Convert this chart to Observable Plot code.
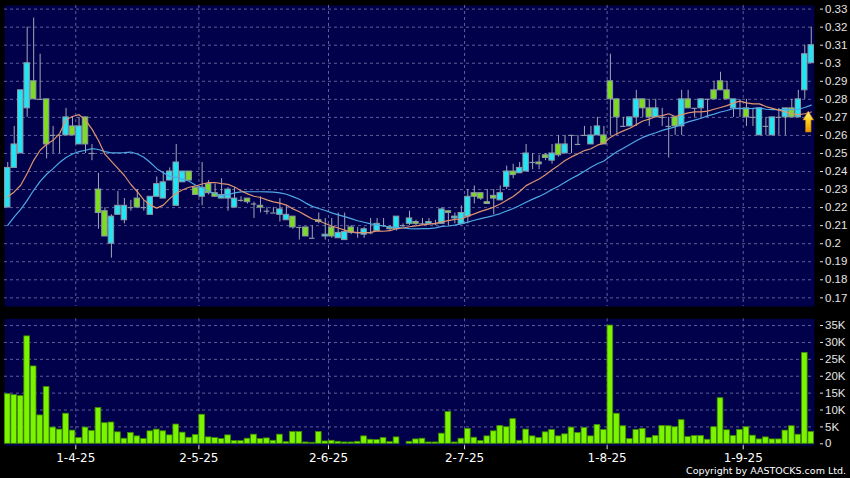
<!DOCTYPE html>
<html><head><meta charset="utf-8">
<script src="https://cdn.jsdelivr.net/npm/d3@7"></script>
<script src="https://cdn.jsdelivr.net/npm/@observablehq/plot@0.6"></script>
<style>
html,body{margin:0;padding:0;background:#000;}
#chart{position:relative;width:850px;height:478px;background:#000;overflow:hidden;}
#price{position:absolute;left:0;top:0;}
#vol{position:absolute;left:0;top:312px;}
#copy{position:absolute;right:4px;top:465px;line-height:11px;color:#fff;font-family:"DejaVu Sans",sans-serif;font-size:9.5px;white-space:nowrap;}
</style></head><body>
<div id="chart"><div id="price"></div><div id="vol"></div><div id="copy">Copyright by AASTOCKS.com Ltd.</div></div>
<script>
// ---- data (trading-day index 0 = 18 Mar 2025) ----
const openP = [.220,.242,.250,.275,.290,.280,.280,.260,.260,.260,.265,.255,.270,.250,.230,.218,.200,.216,.213,.220,
.225,.220,.216,.226,.225,.235,.221,.234,.240,.231,.226,.233,.228,.225,.225,.220,.224,.225,.222,.221,
.218,.217,.216,.213,.215,.209,.209,.203,.213,.204,.209,.203,.202,.209,.206,.205,.206,.207,.210,.209,
.208,.210,.211,.212,.211,.211,.211,.211,.218,.214,.211,.215,.228,.228,.223,.2265,.224,.2315,.240,.239,
.240,.245,.245,.249,.246,.255,.250,.260,.255,.260,.255,.260,.260,.290,.280,.265,.265,.270,.280,.275,
.270,.270,.265,.270,.265,.280,.275,.275,.280,.285,.290,.285,.275,.275,.275,.270,.260,.265,.260,.270,
.270,.275,.270,.285,.300];
const highP = [.245,.265,.285,.320,.325,.305,.280,.265,.260,.275,.270,.270,.270,.255,.239,.220,.216,.229,.225,.224,
.230,.224,.226,.237,.240,.242,.255,.240,.240,.231,.245,.235,.233,.236,.231,.231,.226,.225,.223,.226,
.220,.220,.225,.221,.215,.209,.209,.210,.217,.214,.214,.217,.217,.210,.209,.209,.214,.214,.214,.210,
.215,.211,.218,.213,.214,.214,.213,.220,.218,.217,.221,.230,.232,.228,.230,.230,.232,.243,.244,.245,
.255,.250,.249,.250,.255,.260,.260,.260,.260,.265,.265,.270,.265,.305,.280,.270,.270,.285,.280,.280,
.280,.275,.270,.270,.285,.285,.275,.280,.280,.290,.295,.290,.280,.280,.280,.275,.275,.270,.270,.275,
.275,.280,.285,.310,.320];
const lowP = [.220,.242,.250,.270,.280,.280,.247,.250,.250,.260,.260,.255,.250,.246,.208,.204,.192,.216,.211,.218,
.220,.218,.216,.226,.225,.235,.221,.234,.235,.227,.221,.227,.226,.225,.218,.220,.223,.222,.214,.217,
.216,.217,.212,.213,.208,.202,.204,.203,.211,.202,.203,.203,.202,.205,.203,.203,.205,.207,.209,.207,
.207,.209,.210,.210,.210,.211,.210,.211,.210,.211,.211,.211,.222,.224,.222,.216,.224,.230,.236,.239,
.240,.241,.241,.246,.244,.248,.250,.250,.255,.260,.255,.260,.255,.260,.260,.265,.265,.265,.270,.265,
.270,.265,.2475,.260,.260,.275,.270,.270,.270,.280,.285,.280,.270,.270,.265,.265,.260,.260,.260,.260,
.260,.270,.270,.280,.300];
const closeP = [.242,.255,.285,.300,.280,.280,.255,.260,.260,.270,.260,.265,.255,.250,.217,.204,.215,.221,.221,.220,
.220,.220,.226,.233,.234,.240,.245,.240,.235,.227,.231,.228,.226,.227,.230,.225,.224,.223,.222,.220,
.218,.217,.219,.216,.209,.209,.204,.203,.212,.205,.204,.206,.2065,.206,.206,.208,.206,.211,.210,.208,
.215,.210,.214,.211,.211,.212,.211,.219,.217,.215,.217,.226,.226,.225,.222,.225,.228,.240,.238,.242,
.250,.245,.244,.2475,.250,.249,.255,.260,.255,.260,.260,.265,.255,.280,.270,.265,.270,.280,.275,.270,
.275,.270,.265,.265,.280,.275,.275,.280,.280,.280,.285,.280,.280,.275,.270,.270,.275,.265,.270,.270,
.275,.270,.280,.305,.310];
const volume = [14700,14400,14100,31800,22900,8400,16800,4800,4200,8900,3900,1700,4800,3800,10600,6100,6300,3400,1500,3200,
2200,1400,3700,4200,3700,2500,5700,3300,1800,2600,8600,1900,1700,1400,2500,800,800,1500,2700,1400,
1600,900,2700,500,3500,3500,400,300,3500,700,900,600,400,400,600,2200,1200,1100,1700,500,
1900,0,600,1300,1500,400,400,3000,9400,400,1500,4400,1800,800,2200,3700,5300,4900,7300,900,
4200,2200,1700,3400,4100,2200,2800,4800,3200,4700,2200,5600,4100,35000,8900,5200,1400,4100,4400,1700,
2300,5300,5200,4900,7000,2000,2300,2300,1200,4900,13500,4000,2300,4100,4900,2400,1300,1900,1300,1300,
3900,5200,2700,26900,3500];
// moving averages
const ma10 = [.2260,.2287,.2324,.2389,.2462,.2518,.2551,.2573,.2610,.2687,.2705,.2715,.2685,.2635,.2572,.2496,.2456,.2417,.2378,.2328,
.2288,.2243,.2214,.2197,.2214,.2250,.2280,.2299,.2313,.2320,.2331,.2339,.2339,.2333,.2329,.2314,.2293,.2276,.2263,.2256,
.2243,.2232,.2225,.2214,.2193,.2177,.2157,.2137,.2127,.2112,.2098,.2087,.2075,.2065,.2062,.2061,.2063,.2071,.2069,.2072,
.2083,.2087,.2094,.2099,.2104,.2108,.2113,.2121,.2128,.2135,.2137,.2153,.2165,.2179,.2190,.2203,.2220,.2241,.2262,.2289,
.2322,.2341,.2359,.2382,.2410,.2434,.2461,.2481,.2498,.2516,.2526,.2546,.2557,.2589,.2609,.2625,.2640,.2660,.2680,.2690,
.2705,.2710,.2720,.2705,.2715,.2725,.2730,.2730,.2735,.2745,.2755,.2765,.2780,.2790,.2780,.2775,.2775,.2760,.2750,.2740,
.2730,.2720,.2715,.2720,.2730];
const ma20 = [.2101,.2149,.2190,.2240,.2296,.2345,.2385,.2416,.2450,.2478,.2497,.2510,.2518,.2527,.2522,.2510,.2503,.2503,.2505,.2508,
.2497,.2479,.2450,.2416,.2393,.2373,.2368,.2358,.2346,.2324,.2310,.2291,.2277,.2265,.2272,.2282,.2287,.2288,.2288,.2288,
.2287,.2286,.2282,.2274,.2261,.2246,.2225,.2207,.2195,.2184,.2171,.2160,.2150,.2139,.2127,.2119,.2110,.2104,.2098,.2092,
.2090,.2087,.2084,.2082,.2083,.2084,.2088,.2096,.2098,.2103,.2110,.2120,.2130,.2139,.2147,.2156,.2167,.2181,.2195,.2212,
.2230,.2247,.2262,.2280,.2300,.2318,.2340,.2361,.2380,.2402,.2424,.2443,.2458,.2485,.2509,.2529,.2550,.2570,.2589,.2603,
.2615,.2628,.2638,.2647,.2662,.2675,.2685,.2695,.2708,.2718,.2730,.2738,.2750,.2748,.2748,.2750,.2753,.2745,.2743,.2743,
.2743,.2743,.2745,.2755,.2768];
const monthFirstIdx = [10, 29, 49, 70, 92, 113];
const monthLabels = ["1-4-25","2-5-25","2-6-25","2-7-25","1-8-25","1-9-25"];
const priceTicks = [0.17,0.18,0.19,0.2,0.21,0.22,0.23,0.24,0.25,0.26,0.27,0.28,0.29,0.3,0.31,0.32,0.33];
const volTicks = [0,5000,10000,15000,20000,25000,30000,35000];
const signalIdx = [124];
const signalPrice = [0.2735];

// ---- styling ----
const NAVY = "#00004b", GRID = "#5f5f98", WICK = "#a0a8b4", EDGE = "#8d98a6";
const CYAN = "#22e4f2", GREEN = "#7ddc22", VGREEN = "#7cf400", VEDGE = "#3e8a00";
const ORANGE = "#de9470", BLUE = "#4ea8e4", TXT = "#e4e4e4";

const candles = closeP.map((c, i) => ({i, o: openP[i], h: highP[i], l: lowP[i], c}));
const up = candles.filter(d => d.c > d.o);
const down = candles.filter(d => d.c < d.o);
const doji = candles.filter(d => d.c === d.o);
const monthPos = monthFirstIdx.map(i => i + 0.5);
const labelAt = new Map(monthPos.map((p, k) => [p, monthLabels[k]]));
const xDomain = [-0.5, closeP.length - 0.5];

const arrowSymbol = {
  draw(ctx) {
    ctx.moveTo(0, 0); ctx.lineTo(5.4, 9); ctx.lineTo(2.8, 9); ctx.lineTo(2.8, 21);
    ctx.lineTo(-2.8, 21); ctx.lineTo(-2.8, 9); ctx.lineTo(-5.4, 9); ctx.closePath();
  }
};

const dashed = {stroke: GRID, strokeDasharray: "3,3", strokeWidth: 1};

const pricePlot = Plot.plot({
  width: 850, height: 312,
  marginTop: 5, marginBottom: 6, marginLeft: 4, marginRight: 36,
  x: {domain: xDomain, axis: null},
  y: {domain: [0.1652, 0.332]},
  style: {background: "#000", color: TXT, overflow: "visible"},
  marks: [
    Plot.frame({fill: NAVY}),
    Plot.ruleY(priceTicks, dashed),
    Plot.ruleX(monthPos, dashed),
    Plot.ruleX(candles, {x: "i", y1: "l", y2: "h", stroke: WICK, strokeWidth: 1}),
    Plot.rect(up, {x1: d => d.i - 0.42, x2: d => d.i + 0.42, y1: "o", y2: "c", fill: CYAN, stroke: EDGE, strokeWidth: 1}),
    Plot.rect(down, {x1: d => d.i - 0.42, x2: d => d.i + 0.42, y1: "o", y2: "c", fill: GREEN, stroke: EDGE, strokeWidth: 1}),
    Plot.ruleY(doji, {x1: d => d.i - 0.42, x2: d => d.i + 0.42, y: "o", stroke: EDGE, strokeWidth: 1.2}),
    Plot.line(ma20, {x: (d, i) => i, y: d => d, stroke: BLUE, strokeWidth: 1.2}),
    Plot.line(ma10, {x: (d, i) => i, y: d => d, stroke: ORANGE, strokeWidth: 1.2}),
    Plot.dot(signalIdx, {x: d => d, y: (d, k) => signalPrice[k], symbol: arrowSymbol, r: 5, dx: -3,
      fill: "url(#arrowGrad)", stroke: "#a87000", strokeWidth: 0.6}),
    Plot.axisY(priceTicks, {anchor: "right", tickSize: 3, tickPadding: 2.5, dx: 5, label: null,
      tickFormat: d => String(d), fontSize: 11.5, fontFamily: "Liberation Sans"})
  ]
});
const defs = document.createElementNS("http://www.w3.org/2000/svg", "defs");
defs.innerHTML = '<linearGradient id="arrowGrad" x1="0" y1="0" x2="0" y2="1"><stop offset="0" stop-color="#fff48a"/><stop offset="0.5" stop-color="#ffc818"/><stop offset="1" stop-color="#e89400"/></linearGradient>';
pricePlot.insertBefore(defs, pricePlot.firstChild);
document.getElementById("price").appendChild(pricePlot);

const volData = volume.map((v, i) => ({i, v}));
const volPlot = Plot.plot({
  width: 850, height: 166,
  marginTop: 6.3, marginBottom: 32.7, marginLeft: 4, marginRight: 36,
  x: {domain: xDomain},
  y: {domain: [-590, 37000]},
  style: {background: "#000", color: TXT, overflow: "visible"},
  marks: [
    Plot.frame({fill: NAVY}),
    Plot.ruleY(volTicks.filter(v => v > 0), dashed),
    Plot.ruleX(monthPos, dashed),
    Plot.rect(volData, {x1: d => d.i - 0.44, x2: d => d.i + 0.44, y1: 0, y2: "v", fill: VGREEN, stroke: VEDGE, strokeWidth: 0.8}),
    Plot.axisY(volTicks, {anchor: "right", tickSize: 3, tickPadding: 2.5, dx: 5, label: null,
      tickFormat: d => d === 0 ? "0" : (d / 1000) + "K", fontSize: 11.5, fontFamily: "Liberation Sans"}),
    Plot.axisX(monthPos, {anchor: "bottom", tickSize: 4, tickPadding: 4, label: null,
      tickFormat: d => labelAt.get(d), fontSize: 12, fontFamily: "DejaVu Sans", fill: "#ffffff"})
  ]
});
document.getElementById("vol").appendChild(volPlot);
</script>
</body></html>
